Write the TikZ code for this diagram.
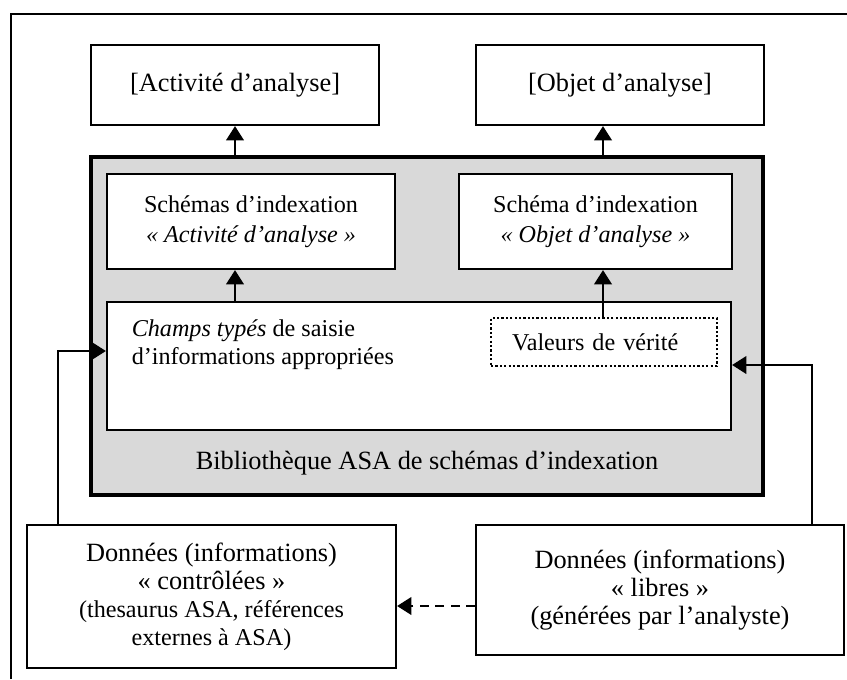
\documentclass[tikz,border=0pt]{standalone}
\usepackage{fontspec}
\setmainfont{Liberation Serif}
\usetikzlibrary{arrows.meta,positioning}
\newdimen\pxu \pxu=0.016cm
\newcommand{\reduit}{\fontsize{11}{12.7}\selectfont}

\begin{document}
\begin{tikzpicture}[
    x=0.016cm, y=-0.016cm,
    box/.style={draw=black, line width=1pt, rectangle, fill=white, align=center},
    target/.style={box, minimum width=288\pxu, minimum height=80\pxu, font=\fontsize{12}{14}\selectfont},
    schema/.style={box, minimum height=95\pxu, font=\fontsize{11}{13.7}\selectfont},
    library/.style={draw=black, line width=2pt, rectangle, fill=black!15, minimum width=672\pxu, minimum height=338\pxu},
    source/.style={box, font=\fontsize{12}{12.7}\selectfont},
    dotbox/.style={draw=black, line width=1pt, dash pattern=on 1pt off 1pt, rectangle, align=left, text width=184\pxu, inner xsep=21\pxu, minimum height=48\pxu, font=\fontsize{11}{13}\selectfont},
    arrow/.style={-{Triangle[length=6.5pt, width=8pt]}, line width=1pt}
]
  \useasboundingbox (0,0) rectangle (847,679);

  % Outer frame
  \draw[line width=1pt] (11,679) -- (11,14) -- (847,14);

  % Nodes
  \node (act) [target] at (235,85) {[Activité d’analyse]};
  \node (obj) [target] at (620,85) {[Objet d’analyse]};

  \node (biblio) [library] at (427,326) {};
  \node (biblioT) [font=\fontsize{12}{14}\selectfont] at (427,463) {Bibliothèque ASA de schémas d’indexation};

  \node (schA) [schema, minimum width=288\pxu] at (251,221.5) {Schémas d’indexation\\\textit{«~Activité d’analyse~»}};
  \node (schB) [schema, minimum width=273\pxu] at (595.5,221.5) {Schéma d’indexation\\\textit{«~Objet d’analyse~»}};

  \node (saisie) [box, minimum width=624\pxu, minimum height=128\pxu] at (419,366) {};
  \node (champs) [anchor=west, align=left, font=\fontsize{11}{12.7}\selectfont] at (124,345) {\textit{Champs typés} de saisie\\d’informations appropriées};
  \node (verite) [dotbox] at (604,342) {Valeurs de vérité};

  \node (ctrl) [source, minimum width=369\pxu, minimum height=143\pxu] at (211.5,596.5) {Données (informations)\\«~contrôlées~»\\{\reduit (thesaurus ASA, références}\\{\reduit externes à ASA)}};
  \node (libre) [source, minimum width=368\pxu, minimum height=130\pxu] at (660,590) {Données (informations)\\«~libres~»\\(générées par l’analyste)};

  % Columns and bends
  \coordinate (colA) at (235,0);
  \coordinate (colB) at (603,0);
  \coordinate (feedL) at (58,351);
  \coordinate (feedR) at (812,365);
  \coordinate (dashY) at (0,606);

  % Arrows
  \draw [arrow] (biblio.north -| colA) -- (act.south -| colA);
  \draw [arrow] (biblio.north -| colB) -- (obj.south -| colB);
  \draw [arrow] (saisie.north -| colA) -- (schA.south -| colA);
  \draw [arrow] (verite.north -| colB) -- (schB.south -| colB);

  \draw [arrow] (ctrl.north -| feedL) |- (saisie.west |- feedL);
  \draw [arrow] (libre.north -| feedR) |- (saisie.east |- feedR);
  \draw [arrow, dash pattern=on 4pt off 3pt] (libre.west |- dashY) -- (ctrl.east |- dashY);

\end{tikzpicture}
\end{document}
